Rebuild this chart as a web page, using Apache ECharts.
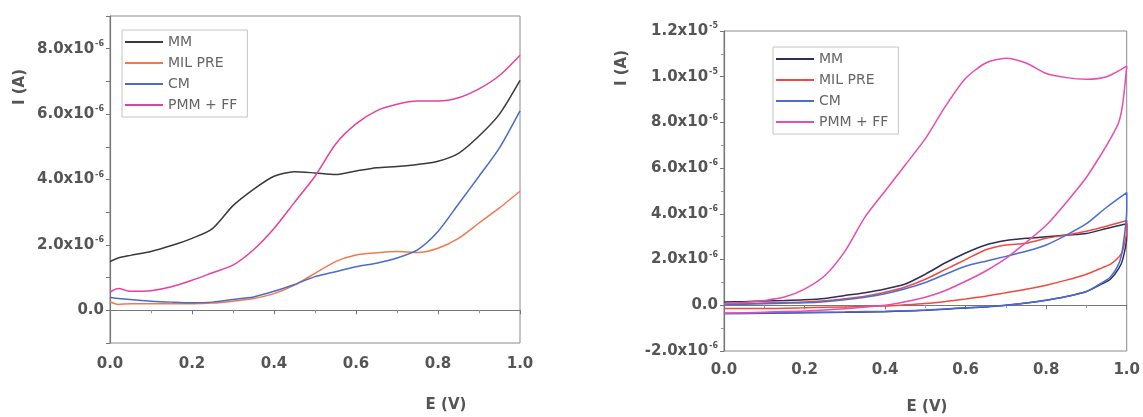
<!DOCTYPE html>
<html><head><meta charset="utf-8">
<script src="https://cdn.jsdelivr.net/npm/echarts@6/dist/echarts.min.js"></script>
<style>html,body{margin:0;padding:0;background:#fff}#c{width:1143px;height:417px}</style>
</head><body><div id="c"></div>
<script>
// ---------- DATA (currents in µA, i.e. x10^-6 A) ----------
const seriesNames = ['MM', 'MIL PRE', 'CM', 'PMM + FF'];
// Left panel: linear sweep, E (V)
const lsvE = [0,0.02,0.05,0.1,0.15,0.2,0.25,0.3,0.35,0.4,0.45,0.5,0.55,0.6,0.65,0.7,0.75,0.8,0.85,0.9,0.95,1.0];
const lsvMM  = [1.49,1.6,1.68,1.8,1.98,2.2,2.5,3.2,3.7,4.1,4.24,4.2,4.15,4.26,4.36,4.4,4.46,4.56,4.8,5.33,6.0,7.03];
const lsvMIL = [0.26,0.18,0.2,0.2,0.2,0.2,0.22,0.28,0.36,0.51,0.77,1.13,1.49,1.69,1.76,1.8,1.77,1.9,2.2,2.67,3.13,3.64];
const lsvCM  = [0.39,0.36,0.33,0.28,0.25,0.23,0.25,0.33,0.41,0.58,0.79,1.03,1.18,1.33,1.44,1.6,1.85,2.41,3.25,4.1,4.97,6.1];
const lsvPMM = [0.56,0.67,0.58,0.6,0.72,0.92,1.15,1.38,1.85,2.5,3.3,4.1,5.08,5.7,6.1,6.3,6.4,6.4,6.5,6.77,7.18,7.8];
// Right panel: cyclic voltammetry, forward and reverse sweeps
const cvFwdE = [0,0.05,0.1,0.15,0.2,0.25,0.3,0.35,0.4,0.45,0.5,0.55,0.6,0.65,0.7,0.75,0.8,0.85,0.9,0.95,1.0];
const cvRevE = [1.0,0.99,0.98,0.96,0.94,0.9,0.85,0.8,0.75,0.7,0.65,0.6,0.55,0.5,0.45,0.4,0.3,0.2,0.1,0];
const cvMMFwd  = [0.14,0.16,0.19,0.21,0.24,0.3,0.43,0.55,0.71,0.93,1.36,1.86,2.29,2.64,2.83,2.93,3.0,3.07,3.14,3.36,3.57];
const cvMMRev  = [3.0,2.0,1.6,1.15,0.95,0.6,0.38,0.22,0.1,0.0,-0.07,-0.12,-0.17,-0.22,-0.25,-0.28,-0.31,-0.33,-0.35,-0.36];
const cvMILFwd = [0.07,0.08,0.1,0.12,0.14,0.2,0.29,0.4,0.57,0.8,1.14,1.57,2.0,2.43,2.64,2.71,2.93,3.07,3.24,3.46,3.71];
const cvMILRev = [3.3,2.4,2.1,1.8,1.65,1.36,1.1,0.88,0.7,0.55,0.4,0.28,0.17,0.08,0.02,-0.03,-0.07,-0.11,-0.14,-0.14];
const cvCMFwd  = [0.03,0.05,0.07,0.09,0.11,0.16,0.24,0.35,0.5,0.72,1.0,1.36,1.71,1.93,2.14,2.36,2.64,3.07,3.57,4.29,4.93];
const cvCMRev  = [4.2,2.5,1.8,1.25,1.0,0.6,0.38,0.22,0.1,0.0,-0.06,-0.11,-0.16,-0.21,-0.24,-0.26,-0.29,-0.31,-0.34,-0.36];
const cvPMMFwd = [0.07,0.12,0.21,0.36,0.71,1.29,2.36,3.86,5.0,6.14,7.29,8.71,9.93,10.6,10.81,10.6,10.14,9.96,9.89,10.0,10.46];
const cvPMMRev = [10.46,8.8,8.0,7.3,6.7,5.6,4.5,3.5,2.75,2.05,1.5,1.05,0.65,0.35,0.15,0.0,-0.15,-0.25,-0.3,-0.35];

const leftColors  = ['#3a3a3a', '#f07a50', '#4a6cc8', '#e8409c'];
const rightColors = ['#2e2e58', '#f04a40', '#4a6cd8', '#e84cb0'];

// ---------- helpers ----------
function pairs(xs, ys) { return xs.map((x, i) => [x, ys[i]]); }
function loop(fx, fy, rx, ry) { return pairs(fx, fy).concat(pairs(rx, ry)); }
const FONT = 'DejaVu Sans';
function sci(v, hideOdd) {
  if (hideOdd && Math.round(v) % 2 !== 0) return '';
  if (Math.abs(v) < 1e-9) return '{n|0.0}';
  const e = Math.floor(Math.log10(Math.abs(v)) + 1e-9);
  const m = v / Math.pow(10, e);
  return '{n|' + m.toFixed(1) + 'x10}{s|' + (e - 6) + '}';
}
const rich = {
  n: { fontSize: 15, fontWeight: 'bold', color: '#555', fontFamily: FONT, lineHeight: 18 },
  s: { fontSize: 8, fontWeight: 'bold', color: '#555', fontFamily: FONT, verticalAlign: 'top', lineHeight: 10, padding: [0, 0, 6, 1] }
};
const axisLine = { show: true, lineStyle: { color: '#777', width: 1.2 } };

function xAxis(gi, margin) {
  return {
    type: 'value', gridIndex: gi, min: 0, max: 1, interval: 0.2,
    axisLine: axisLine,
    axisTick: { show: true, length: 4, lineStyle: { color: '#777' } },
    minorTick: { show: true, splitNumber: 2, length: 3, lineStyle: { color: '#999' } },
    splitLine: { show: false },
    axisLabel: { margin: margin, fontSize: 15, fontWeight: 'bold', color: '#555', fontFamily: FONT,
      formatter: v => v.toFixed(1) }
  };
}
function yAxis(gi, min, max, interval, hideOdd, minor) {
  return {
    type: 'value', gridIndex: gi, min: min, max: max, interval: interval,
    axisLine: axisLine,
    axisTick: { show: true, length: 4, lineStyle: { color: '#777' } },
    minorTick: { show: minor, splitNumber: 2, length: 3, lineStyle: { color: '#999' } },
    splitLine: { show: false },
    axisLabel: { margin: 6, formatter: v => sci(v, hideOdd), rich: rich }
  };
}
function line(name, gi, data, color) {
  return { name: name, type: 'line', xAxisIndex: gi, yAxisIndex: gi, data: data,
    showSymbol: false, smooth: 0.25, lineStyle: { color: color, width: 1.5 }, itemStyle: { color: color },
    emphasis: { disabled: true } };
}
function legend(left, top, colors) {
  return {
    orient: 'vertical', left: left, top: top, icon: 'rect', itemWidth: 38, itemHeight: 2, itemGap: 7,
    borderColor: '#c4c4c4', borderWidth: 1, padding: [5, 10, 5, 3], selectedMode: false,
    textStyle: { fontSize: 14, color: '#666', fontFamily: FONT, lineHeight: 14, padding: [0, 0, 0, 0] },
    data: seriesNames.map((n, i) => ({ name: n, itemStyle: { color: colors[i] } }))
  };
}

const lsv = [lsvMM, lsvMIL, lsvCM, lsvPMM];
const cv = [[cvMMFwd, cvMMRev], [cvMILFwd, cvMILRev], [cvCMFwd, cvCMRev], [cvPMMFwd, cvPMMRev]];

const series = [];
seriesNames.forEach((n, i) => series.push(line(n, 0, pairs(lsvE, lsv[i]), leftColors[i])));
seriesNames.forEach((n, i) => series.push(line(n, 1, loop(cvFwdE, cv[i][0], cvRevE, cv[i][1]), rightColors[i])));

const titleText = (x, y, text, rot) => ({
  type: 'text', x: x, y: y, rotation: rot || 0,
  style: { text: text, fontSize: 15, fontWeight: 'bold', fill: '#555', fontFamily: FONT, align: 'center', verticalAlign: 'middle' }
});

const chart = echarts.init(document.getElementById('c'), null, { renderer: 'canvas' });
chart.setOption({
  animation: false,
  backgroundColor: '#fff',
  grid: [
    { left: 110, top: 16, width: 410, height: 327, show: true, borderColor: '#8a8a8a', borderWidth: 1 },
    { left: 724, top: 31, width: 407, height: 320, show: true, borderColor: '#8a8a8a', borderWidth: 1 }
  ],
  xAxis: [xAxis(0, 14), xAxis(1, 12)],
  yAxis: [yAxis(0, -1, 9, 1, true, false), yAxis(1, -2, 12, 2, false, true)],
  legend: [legend(122, 30, leftColors), legend(773, 47, rightColors)],
  series: series,
  graphic: [
    titleText(20, 87, 'I (A)', Math.PI / 2),
    titleText(622, 68, 'I (A)', Math.PI / 2),
    titleText(446, 405, 'E (V)'),
    titleText(927, 407, 'E (V)')
  ]
});
</script></body></html>
